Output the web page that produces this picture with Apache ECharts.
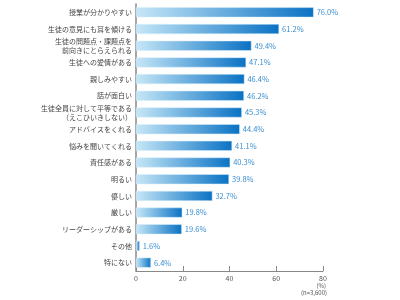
<!DOCTYPE html>
<html>
<head>
<meta charset="utf-8">
<script src="https://cdn.jsdelivr.net/npm/echarts@6/dist/echarts.min.js"></script>
<style>
  html, body { margin: 0; padding: 0; background: #fff; }
  #chart { width: 400px; height: 300px; }
</style>
</head>
<body>
<div id="chart"></div>
<script>
var categories = [
  '授業が分かりやすい',
  '生徒の意見にも耳を傾ける',
  '生徒の問題点・課題点を\n前向きにとらえられる',
  '生徒への愛情がある',
  '親しみやすい',
  '話が面白い',
  '生徒全員に対して平等である\n（えこひいきしない）',
  'アドバイスをくれる',
  '悩みを聞いてくれる',
  '責任感がある',
  '明るい',
  '優しい',
  '厳しい',
  'リーダーシップがある',
  'その他',
  '特にない'
];
var values = [76.0, 61.2, 49.4, 47.1, 46.4, 46.2, 45.3, 44.4, 41.1, 40.3, 39.8, 32.7, 19.8, 19.6, 1.6, 6.4];
var xTicks = [0, 20, 40, 60, 80];
var unitNotes = ['(%)', '(n=3,600)'];

var chartFont = '"Noto Sans CJK JP", "Noto Sans", sans-serif';

var chart = echarts.init(document.getElementById('chart'));

var option = {
  animation: false,
  backgroundColor: '#fff',
  textStyle: { fontFamily: chartFont },
  grid: { left: 136, right: 77, top: 4, bottom: 29, containLabel: false },
  xAxis: {
    type: 'value',
    min: xTicks[0],
    max: xTicks[xTicks.length - 1],
    interval: 20,
    axisLine: { show: true, lineStyle: { color: '#888', width: 1 } },
    axisTick: { show: true, inside: true, length: 5, lineStyle: { color: '#888' } },
    axisLabel: { color: '#555', fontSize: 7, margin: 4, fontFamily: chartFont },
    splitLine: { show: false }
  },
  yAxis: {
    type: 'category',
    data: categories,
    inverse: true,
    axisLine: { show: true, lineStyle: { color: '#888', width: 1.5 } },
    axisTick: { show: false },
    axisLabel: { color: '#444', fontSize: 7, lineHeight: 9, margin: 4, fontFamily: chartFont }
  },
  series: [{
    type: 'bar',
    data: values,
    barWidth: 10,
    itemStyle: {
      color: new echarts.graphic.LinearGradient(0, 0, 1, 0, [
        { offset: 0, color: '#c6e7f7' },
        { offset: 1, color: '#0a72c4' }
      ]),
      borderColor: '#d8eefa',
      borderWidth: 0.5
    },
    label: {
      show: true,
      position: 'right',
      distance: 3,
      color: '#3a8fd2',
      fontSize: 7.5,
      fontFamily: chartFont,
      formatter: function (p) { return p.value.toFixed(1) + '%'; }
    }
  }],
  graphic: [{
    type: 'text',
    x: 326,
    y: 283,
    style: {
      text: unitNotes[0],
      align: 'right',
      verticalAlign: 'top',
      fill: '#555',
      font: '6px ' + chartFont
    }
  }, {
    type: 'text',
    x: 327,
    y: 290,
    style: {
      text: unitNotes[1],
      align: 'right',
      verticalAlign: 'top',
      fill: '#555',
      font: '6px ' + chartFont
    }
  }]
};

chart.setOption(option);
</script>
</body>
</html>
